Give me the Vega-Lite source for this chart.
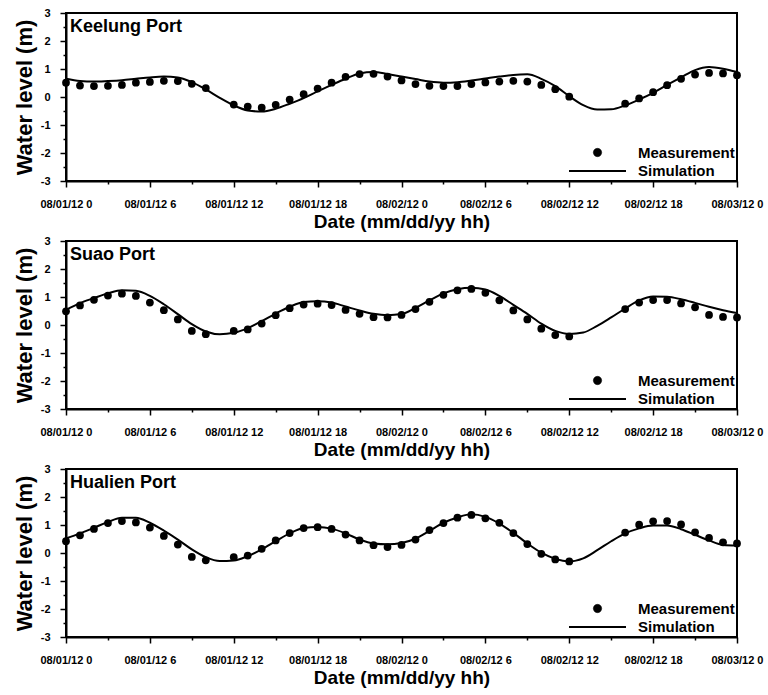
{
  "$schema": "https://vega.github.io/schema/vega-lite/v6.json",
  "padding": {"left": 12, "top": 6, "right": 0, "bottom": 0},
  "background": "white",
  "spacing": 2,
  "datasets": {
    "meas": [
      {"port":"Keelung Port","series":"Measurement","hour":0,"level":0.51},{"port":"Keelung Port","series":"Measurement","hour":1,"level":0.41},{"port":"Keelung Port","series":"Measurement","hour":2,"level":0.39},{"port":"Keelung Port","series":"Measurement","hour":3,"level":0.40},{"port":"Keelung Port","series":"Measurement","hour":4,"level":0.43},{"port":"Keelung Port","series":"Measurement","hour":5,"level":0.51},{"port":"Keelung Port","series":"Measurement","hour":6,"level":0.54},{"port":"Keelung Port","series":"Measurement","hour":7,"level":0.58},{"port":"Keelung Port","series":"Measurement","hour":8,"level":0.57},{"port":"Keelung Port","series":"Measurement","hour":9,"level":0.47},{"port":"Keelung Port","series":"Measurement","hour":10,"level":0.32},{"port":"Keelung Port","series":"Measurement","hour":12,"level":-0.27},{"port":"Keelung Port","series":"Measurement","hour":13,"level":-0.34},{"port":"Keelung Port","series":"Measurement","hour":14,"level":-0.38},{"port":"Keelung Port","series":"Measurement","hour":15,"level":-0.28},{"port":"Keelung Port","series":"Measurement","hour":16,"level":-0.09},{"port":"Keelung Port","series":"Measurement","hour":17,"level":0.10},{"port":"Keelung Port","series":"Measurement","hour":18,"level":0.30},{"port":"Keelung Port","series":"Measurement","hour":19,"level":0.51},{"port":"Keelung Port","series":"Measurement","hour":20,"level":0.72},{"port":"Keelung Port","series":"Measurement","hour":21,"level":0.82},{"port":"Keelung Port","series":"Measurement","hour":22,"level":0.83},{"port":"Keelung Port","series":"Measurement","hour":23,"level":0.73},{"port":"Keelung Port","series":"Measurement","hour":24,"level":0.59},{"port":"Keelung Port","series":"Measurement","hour":25,"level":0.46},{"port":"Keelung Port","series":"Measurement","hour":26,"level":0.40},{"port":"Keelung Port","series":"Measurement","hour":27,"level":0.39},{"port":"Keelung Port","series":"Measurement","hour":28,"level":0.39},{"port":"Keelung Port","series":"Measurement","hour":29,"level":0.46},{"port":"Keelung Port","series":"Measurement","hour":30,"level":0.52},{"port":"Keelung Port","series":"Measurement","hour":31,"level":0.55},{"port":"Keelung Port","series":"Measurement","hour":32,"level":0.58},{"port":"Keelung Port","series":"Measurement","hour":33,"level":0.55},{"port":"Keelung Port","series":"Measurement","hour":34,"level":0.43},{"port":"Keelung Port","series":"Measurement","hour":35,"level":0.28},{"port":"Keelung Port","series":"Measurement","hour":36,"level":0.01},{"port":"Keelung Port","series":"Measurement","hour":40,"level":-0.24},{"port":"Keelung Port","series":"Measurement","hour":41,"level":-0.05},{"port":"Keelung Port","series":"Measurement","hour":42,"level":0.17},{"port":"Keelung Port","series":"Measurement","hour":43,"level":0.42},{"port":"Keelung Port","series":"Measurement","hour":44,"level":0.65},{"port":"Keelung Port","series":"Measurement","hour":45,"level":0.80},{"port":"Keelung Port","series":"Measurement","hour":46,"level":0.86},{"port":"Keelung Port","series":"Measurement","hour":47,"level":0.84},{"port":"Keelung Port","series":"Measurement","hour":48,"level":0.78},
      {"port":"Suao Port","series":"Measurement","hour":0,"level":0.49},{"port":"Suao Port","series":"Measurement","hour":1,"level":0.70},{"port":"Suao Port","series":"Measurement","hour":2,"level":0.90},{"port":"Suao Port","series":"Measurement","hour":3,"level":1.05},{"port":"Suao Port","series":"Measurement","hour":4,"level":1.12},{"port":"Suao Port","series":"Measurement","hour":5,"level":1.04},{"port":"Suao Port","series":"Measurement","hour":6,"level":0.80},{"port":"Suao Port","series":"Measurement","hour":7,"level":0.53},{"port":"Suao Port","series":"Measurement","hour":8,"level":0.20},{"port":"Suao Port","series":"Measurement","hour":9,"level":-0.21},{"port":"Suao Port","series":"Measurement","hour":10,"level":-0.33},{"port":"Suao Port","series":"Measurement","hour":12,"level":-0.21},{"port":"Suao Port","series":"Measurement","hour":13,"level":-0.16},{"port":"Suao Port","series":"Measurement","hour":14,"level":0.05},{"port":"Suao Port","series":"Measurement","hour":15,"level":0.35},{"port":"Suao Port","series":"Measurement","hour":16,"level":0.60},{"port":"Suao Port","series":"Measurement","hour":17,"level":0.73},{"port":"Suao Port","series":"Measurement","hour":18,"level":0.76},{"port":"Suao Port","series":"Measurement","hour":19,"level":0.71},{"port":"Suao Port","series":"Measurement","hour":20,"level":0.54},{"port":"Suao Port","series":"Measurement","hour":21,"level":0.40},{"port":"Suao Port","series":"Measurement","hour":22,"level":0.28},{"port":"Suao Port","series":"Measurement","hour":23,"level":0.27},{"port":"Suao Port","series":"Measurement","hour":24,"level":0.36},{"port":"Suao Port","series":"Measurement","hour":25,"level":0.57},{"port":"Suao Port","series":"Measurement","hour":26,"level":0.83},{"port":"Suao Port","series":"Measurement","hour":27,"level":1.08},{"port":"Suao Port","series":"Measurement","hour":28,"level":1.24},{"port":"Suao Port","series":"Measurement","hour":29,"level":1.29},{"port":"Suao Port","series":"Measurement","hour":30,"level":1.15},{"port":"Suao Port","series":"Measurement","hour":31,"level":0.88},{"port":"Suao Port","series":"Measurement","hour":32,"level":0.52},{"port":"Suao Port","series":"Measurement","hour":33,"level":0.20},{"port":"Suao Port","series":"Measurement","hour":34,"level":-0.13},{"port":"Suao Port","series":"Measurement","hour":35,"level":-0.36},{"port":"Suao Port","series":"Measurement","hour":36,"level":-0.41},{"port":"Suao Port","series":"Measurement","hour":40,"level":0.57},{"port":"Suao Port","series":"Measurement","hour":41,"level":0.80},{"port":"Suao Port","series":"Measurement","hour":42,"level":0.89},{"port":"Suao Port","series":"Measurement","hour":43,"level":0.89},{"port":"Suao Port","series":"Measurement","hour":44,"level":0.77},{"port":"Suao Port","series":"Measurement","hour":45,"level":0.63},{"port":"Suao Port","series":"Measurement","hour":46,"level":0.36},{"port":"Suao Port","series":"Measurement","hour":47,"level":0.29},{"port":"Suao Port","series":"Measurement","hour":48,"level":0.27},
      {"port":"Hualien Port","series":"Measurement","hour":0,"level":0.42},{"port":"Hualien Port","series":"Measurement","hour":1,"level":0.63},{"port":"Hualien Port","series":"Measurement","hour":2,"level":0.86},{"port":"Hualien Port","series":"Measurement","hour":3,"level":1.07},{"port":"Hualien Port","series":"Measurement","hour":4,"level":1.14},{"port":"Hualien Port","series":"Measurement","hour":5,"level":1.09},{"port":"Hualien Port","series":"Measurement","hour":6,"level":0.91},{"port":"Hualien Port","series":"Measurement","hour":7,"level":0.61},{"port":"Hualien Port","series":"Measurement","hour":8,"level":0.30},{"port":"Hualien Port","series":"Measurement","hour":9,"level":-0.14},{"port":"Hualien Port","series":"Measurement","hour":10,"level":-0.26},{"port":"Hualien Port","series":"Measurement","hour":12,"level":-0.15},{"port":"Hualien Port","series":"Measurement","hour":13,"level":-0.09},{"port":"Hualien Port","series":"Measurement","hour":14,"level":0.15},{"port":"Hualien Port","series":"Measurement","hour":15,"level":0.45},{"port":"Hualien Port","series":"Measurement","hour":16,"level":0.71},{"port":"Hualien Port","series":"Measurement","hour":17,"level":0.89},{"port":"Hualien Port","series":"Measurement","hour":18,"level":0.92},{"port":"Hualien Port","series":"Measurement","hour":19,"level":0.86},{"port":"Hualien Port","series":"Measurement","hour":20,"level":0.66},{"port":"Hualien Port","series":"Measurement","hour":21,"level":0.45},{"port":"Hualien Port","series":"Measurement","hour":22,"level":0.28},{"port":"Hualien Port","series":"Measurement","hour":23,"level":0.21},{"port":"Hualien Port","series":"Measurement","hour":24,"level":0.29},{"port":"Hualien Port","series":"Measurement","hour":25,"level":0.48},{"port":"Hualien Port","series":"Measurement","hour":26,"level":0.82},{"port":"Hualien Port","series":"Measurement","hour":27,"level":1.07},{"port":"Hualien Port","series":"Measurement","hour":28,"level":1.26},{"port":"Hualien Port","series":"Measurement","hour":29,"level":1.36},{"port":"Hualien Port","series":"Measurement","hour":30,"level":1.24},{"port":"Hualien Port","series":"Measurement","hour":31,"level":1.08},{"port":"Hualien Port","series":"Measurement","hour":32,"level":0.71},{"port":"Hualien Port","series":"Measurement","hour":33,"level":0.32},{"port":"Hualien Port","series":"Measurement","hour":34,"level":-0.03},{"port":"Hualien Port","series":"Measurement","hour":35,"level":-0.23},{"port":"Hualien Port","series":"Measurement","hour":36,"level":-0.30},{"port":"Hualien Port","series":"Measurement","hour":40,"level":0.73},{"port":"Hualien Port","series":"Measurement","hour":41,"level":1.01},{"port":"Hualien Port","series":"Measurement","hour":42,"level":1.13},{"port":"Hualien Port","series":"Measurement","hour":43,"level":1.14},{"port":"Hualien Port","series":"Measurement","hour":44,"level":1.02},{"port":"Hualien Port","series":"Measurement","hour":45,"level":0.74},{"port":"Hualien Port","series":"Measurement","hour":46,"level":0.54},{"port":"Hualien Port","series":"Measurement","hour":47,"level":0.38},{"port":"Hualien Port","series":"Measurement","hour":48,"level":0.34}
    ],
    "sim": [
      {"port":"Keelung Port","series":"Simulation","hour":0,"level":0.65},{"port":"Keelung Port","series":"Simulation","hour":1,"level":0.57},{"port":"Keelung Port","series":"Simulation","hour":2,"level":0.55},{"port":"Keelung Port","series":"Simulation","hour":3,"level":0.57},{"port":"Keelung Port","series":"Simulation","hour":4,"level":0.60},{"port":"Keelung Port","series":"Simulation","hour":5,"level":0.65},{"port":"Keelung Port","series":"Simulation","hour":6,"level":0.70},{"port":"Keelung Port","series":"Simulation","hour":7,"level":0.73},{"port":"Keelung Port","series":"Simulation","hour":8,"level":0.70},{"port":"Keelung Port","series":"Simulation","hour":9,"level":0.53},{"port":"Keelung Port","series":"Simulation","hour":10,"level":0.27},{"port":"Keelung Port","series":"Simulation","hour":11,"level":-0.03},{"port":"Keelung Port","series":"Simulation","hour":12,"level":-0.30},{"port":"Keelung Port","series":"Simulation","hour":13,"level":-0.48},{"port":"Keelung Port","series":"Simulation","hour":14,"level":-0.52},{"port":"Keelung Port","series":"Simulation","hour":15,"level":-0.42},{"port":"Keelung Port","series":"Simulation","hour":16,"level":-0.24},{"port":"Keelung Port","series":"Simulation","hour":17,"level":-0.04},{"port":"Keelung Port","series":"Simulation","hour":18,"level":0.20},{"port":"Keelung Port","series":"Simulation","hour":19,"level":0.43},{"port":"Keelung Port","series":"Simulation","hour":20,"level":0.65},{"port":"Keelung Port","series":"Simulation","hour":21,"level":0.84},{"port":"Keelung Port","series":"Simulation","hour":22,"level":0.89},{"port":"Keelung Port","series":"Simulation","hour":23,"level":0.82},{"port":"Keelung Port","series":"Simulation","hour":24,"level":0.73},{"port":"Keelung Port","series":"Simulation","hour":25,"level":0.64},{"port":"Keelung Port","series":"Simulation","hour":26,"level":0.55},{"port":"Keelung Port","series":"Simulation","hour":27,"level":0.51},{"port":"Keelung Port","series":"Simulation","hour":28,"level":0.53},{"port":"Keelung Port","series":"Simulation","hour":29,"level":0.59},{"port":"Keelung Port","series":"Simulation","hour":30,"level":0.66},{"port":"Keelung Port","series":"Simulation","hour":31,"level":0.73},{"port":"Keelung Port","series":"Simulation","hour":32,"level":0.79},{"port":"Keelung Port","series":"Simulation","hour":33,"level":0.81},{"port":"Keelung Port","series":"Simulation","hour":34,"level":0.65},{"port":"Keelung Port","series":"Simulation","hour":35,"level":0.39},{"port":"Keelung Port","series":"Simulation","hour":36,"level":0.03},{"port":"Keelung Port","series":"Simulation","hour":37,"level":-0.29},{"port":"Keelung Port","series":"Simulation","hour":38,"level":-0.45},{"port":"Keelung Port","series":"Simulation","hour":39,"level":-0.44},{"port":"Keelung Port","series":"Simulation","hour":40,"level":-0.30},{"port":"Keelung Port","series":"Simulation","hour":41,"level":-0.09},{"port":"Keelung Port","series":"Simulation","hour":42,"level":0.15},{"port":"Keelung Port","series":"Simulation","hour":43,"level":0.43},{"port":"Keelung Port","series":"Simulation","hour":44,"level":0.70},{"port":"Keelung Port","series":"Simulation","hour":45,"level":0.96},{"port":"Keelung Port","series":"Simulation","hour":46,"level":1.07},{"port":"Keelung Port","series":"Simulation","hour":47,"level":1.01},{"port":"Keelung Port","series":"Simulation","hour":48,"level":0.89},
      {"port":"Suao Port","series":"Simulation","hour":0,"level":0.54},{"port":"Suao Port","series":"Simulation","hour":1,"level":0.78},{"port":"Suao Port","series":"Simulation","hour":2,"level":0.96},{"port":"Suao Port","series":"Simulation","hour":3,"level":1.13},{"port":"Suao Port","series":"Simulation","hour":4,"level":1.24},{"port":"Suao Port","series":"Simulation","hour":5,"level":1.22},{"port":"Suao Port","series":"Simulation","hour":6,"level":1.04},{"port":"Suao Port","series":"Simulation","hour":7,"level":0.74},{"port":"Suao Port","series":"Simulation","hour":8,"level":0.39},{"port":"Suao Port","series":"Simulation","hour":9,"level":0.03},{"port":"Suao Port","series":"Simulation","hour":10,"level":-0.23},{"port":"Suao Port","series":"Simulation","hour":11,"level":-0.33},{"port":"Suao Port","series":"Simulation","hour":12,"level":-0.28},{"port":"Suao Port","series":"Simulation","hour":13,"level":-0.11},{"port":"Suao Port","series":"Simulation","hour":14,"level":0.14},{"port":"Suao Port","series":"Simulation","hour":15,"level":0.41},{"port":"Suao Port","series":"Simulation","hour":16,"level":0.65},{"port":"Suao Port","series":"Simulation","hour":17,"level":0.82},{"port":"Suao Port","series":"Simulation","hour":18,"level":0.85},{"port":"Suao Port","series":"Simulation","hour":19,"level":0.80},{"port":"Suao Port","series":"Simulation","hour":20,"level":0.66},{"port":"Suao Port","series":"Simulation","hour":21,"level":0.52},{"port":"Suao Port","series":"Simulation","hour":22,"level":0.40},{"port":"Suao Port","series":"Simulation","hour":23,"level":0.35},{"port":"Suao Port","series":"Simulation","hour":24,"level":0.39},{"port":"Suao Port","series":"Simulation","hour":25,"level":0.61},{"port":"Suao Port","series":"Simulation","hour":26,"level":0.88},{"port":"Suao Port","series":"Simulation","hour":27,"level":1.13},{"port":"Suao Port","series":"Simulation","hour":28,"level":1.28},{"port":"Suao Port","series":"Simulation","hour":29,"level":1.33},{"port":"Suao Port","series":"Simulation","hour":30,"level":1.27},{"port":"Suao Port","series":"Simulation","hour":31,"level":1.04},{"port":"Suao Port","series":"Simulation","hour":32,"level":0.72},{"port":"Suao Port","series":"Simulation","hour":33,"level":0.40},{"port":"Suao Port","series":"Simulation","hour":34,"level":0.05},{"port":"Suao Port","series":"Simulation","hour":35,"level":-0.21},{"port":"Suao Port","series":"Simulation","hour":36,"level":-0.32},{"port":"Suao Port","series":"Simulation","hour":37,"level":-0.27},{"port":"Suao Port","series":"Simulation","hour":38,"level":-0.03},{"port":"Suao Port","series":"Simulation","hour":39,"level":0.27},{"port":"Suao Port","series":"Simulation","hour":40,"level":0.59},{"port":"Suao Port","series":"Simulation","hour":41,"level":0.88},{"port":"Suao Port","series":"Simulation","hour":42,"level":1.02},{"port":"Suao Port","series":"Simulation","hour":43,"level":1.01},{"port":"Suao Port","series":"Simulation","hour":44,"level":0.92},{"port":"Suao Port","series":"Simulation","hour":45,"level":0.79},{"port":"Suao Port","series":"Simulation","hour":46,"level":0.65},{"port":"Suao Port","series":"Simulation","hour":47,"level":0.53},{"port":"Suao Port","series":"Simulation","hour":48,"level":0.43},
      {"port":"Hualien Port","series":"Simulation","hour":0,"level":0.52},{"port":"Hualien Port","series":"Simulation","hour":1,"level":0.70},{"port":"Hualien Port","series":"Simulation","hour":2,"level":0.90},{"port":"Hualien Port","series":"Simulation","hour":3,"level":1.11},{"port":"Hualien Port","series":"Simulation","hour":4,"level":1.26},{"port":"Hualien Port","series":"Simulation","hour":5,"level":1.26},{"port":"Hualien Port","series":"Simulation","hour":6,"level":1.08},{"port":"Hualien Port","series":"Simulation","hour":7,"level":0.80},{"port":"Hualien Port","series":"Simulation","hour":8,"level":0.48},{"port":"Hualien Port","series":"Simulation","hour":9,"level":0.13},{"port":"Hualien Port","series":"Simulation","hour":10,"level":-0.15},{"port":"Hualien Port","series":"Simulation","hour":11,"level":-0.29},{"port":"Hualien Port","series":"Simulation","hour":12,"level":-0.27},{"port":"Hualien Port","series":"Simulation","hour":13,"level":-0.11},{"port":"Hualien Port","series":"Simulation","hour":14,"level":0.13},{"port":"Hualien Port","series":"Simulation","hour":15,"level":0.42},{"port":"Hualien Port","series":"Simulation","hour":16,"level":0.70},{"port":"Hualien Port","series":"Simulation","hour":17,"level":0.89},{"port":"Hualien Port","series":"Simulation","hour":18,"level":0.93},{"port":"Hualien Port","series":"Simulation","hour":19,"level":0.87},{"port":"Hualien Port","series":"Simulation","hour":20,"level":0.70},{"port":"Hualien Port","series":"Simulation","hour":21,"level":0.48},{"port":"Hualien Port","series":"Simulation","hour":22,"level":0.34},{"port":"Hualien Port","series":"Simulation","hour":23,"level":0.31},{"port":"Hualien Port","series":"Simulation","hour":24,"level":0.36},{"port":"Hualien Port","series":"Simulation","hour":25,"level":0.51},{"port":"Hualien Port","series":"Simulation","hour":26,"level":0.79},{"port":"Hualien Port","series":"Simulation","hour":27,"level":1.08},{"port":"Hualien Port","series":"Simulation","hour":28,"level":1.27},{"port":"Hualien Port","series":"Simulation","hour":29,"level":1.38},{"port":"Hualien Port","series":"Simulation","hour":30,"level":1.29},{"port":"Hualien Port","series":"Simulation","hour":31,"level":1.05},{"port":"Hualien Port","series":"Simulation","hour":32,"level":0.72},{"port":"Hualien Port","series":"Simulation","hour":33,"level":0.34},{"port":"Hualien Port","series":"Simulation","hour":34,"level":0.01},{"port":"Hualien Port","series":"Simulation","hour":35,"level":-0.21},{"port":"Hualien Port","series":"Simulation","hour":36,"level":-0.30},{"port":"Hualien Port","series":"Simulation","hour":37,"level":-0.19},{"port":"Hualien Port","series":"Simulation","hour":38,"level":0.10},{"port":"Hualien Port","series":"Simulation","hour":39,"level":0.42},{"port":"Hualien Port","series":"Simulation","hour":40,"level":0.70},{"port":"Hualien Port","series":"Simulation","hour":41,"level":0.88},{"port":"Hualien Port","series":"Simulation","hour":42,"level":0.98},{"port":"Hualien Port","series":"Simulation","hour":43,"level":0.98},{"port":"Hualien Port","series":"Simulation","hour":44,"level":0.85},{"port":"Hualien Port","series":"Simulation","hour":45,"level":0.65},{"port":"Hualien Port","series":"Simulation","hour":46,"level":0.45},{"port":"Hualien Port","series":"Simulation","hour":47,"level":0.29},{"port":"Hualien Port","series":"Simulation","hour":48,"level":0.27}
    ]
  },
  "vconcat": [
    {
      "width": 671, "height": 168,
      "layer": [
        {"data": {"name": "sim"}, "transform": [{"filter": "datum.port === 'Keelung Port'"}],
         "mark": {"type": "line", "interpolate": "monotone", "strokeWidth": 2},
         "encoding": {
           "x": {"field": "hour", "type": "quantitative", "scale": {"domain": [0, 48], "nice": false},
                 "axis": {"values": [0,3,6,9,12,15,18,21,24,27,30,33,36,39,42,45,48], "tickCount": 40,
                          "labelExpr": "datum.value % 6 !== 0 ? '' : '08/0' + (1 + floor(datum.value / 24)) + '/12 ' + (datum.value % 24)",
                          "tickSize": {"condition": {"test": "datum.value % 6 === 0", "value": 6}, "value": 3},
                          "labelOverlap": false,
                          "title": "Date (mm/dd/yy hh)"}},
           "y": {"field": "level", "type": "quantitative", "scale": {"domain": [-3, 3], "nice": false},
                 "axis": {"values": [-3,-2.5,-2,-1.5,-1,-0.5,0,0.5,1,1.5,2,2.5,3], "tickCount": 30,
                          "labelExpr": "datum.value % 1 === 0 ? '' + datum.value : ''",
                          "tickSize": {"condition": {"test": "datum.value % 1 === 0", "value": 6}, "value": 3},
                          "labelOverlap": false,
                          "title": "Water level (m)"}},
           "color": {"field": "series", "type": "nominal", "scale": {"domain": ["Measurement", "Simulation"], "range": ["black", "black"]},
                     "legend": {"encode": {"symbols": {"update": {
                       "shape": {"signal": "datum.value === 'Measurement' ? 'circle' : 'stroke'"},
                       "size": {"signal": "datum.value === 'Measurement' ? 70 : 3249"},
                       "fill": {"signal": "datum.value === 'Measurement' ? 'black' : 'transparent'"},
                       "stroke": {"value": "black"},
                       "strokeWidth": {"signal": "datum.value === 'Measurement' ? 0.5 : 2"},
                       "opacity": {"value": 1}}}}}}
         }},
        {"data": {"name": "meas"}, "transform": [{"filter": "datum.port === 'Keelung Port'"}],
         "mark": {"type": "point", "filled": true, "size": 60, "opacity": 1},
         "encoding": {
           "x": {"field": "hour", "type": "quantitative"},
           "y": {"field": "level", "type": "quantitative"},
           "color": {"field": "series", "type": "nominal"}
         }},
        {"data": {"values": [{"name": "Keelung Port"}]},
         "mark": {"type": "text", "align": "left", "baseline": "middle", "dx": 4, "dy": 14, "fontSize": 18, "fontWeight": "bold", "font": "Liberation Sans", "color": "black"},
         "encoding": {"x": {"datum": 0}, "y": {"datum": 3}, "text": {"field": "name"}}}
      ]
    },
    {
      "width": 671, "height": 168,
      "layer": [
        {"data": {"name": "sim"}, "transform": [{"filter": "datum.port === 'Suao Port'"}],
         "mark": {"type": "line", "interpolate": "monotone", "strokeWidth": 2},
         "encoding": {
           "x": {"field": "hour", "type": "quantitative", "scale": {"domain": [0, 48], "nice": false},
                 "axis": {"values": [0,3,6,9,12,15,18,21,24,27,30,33,36,39,42,45,48], "tickCount": 40,
                          "labelExpr": "datum.value % 6 !== 0 ? '' : '08/0' + (1 + floor(datum.value / 24)) + '/12 ' + (datum.value % 24)",
                          "tickSize": {"condition": {"test": "datum.value % 6 === 0", "value": 6}, "value": 3},
                          "labelOverlap": false,
                          "title": "Date (mm/dd/yy hh)"}},
           "y": {"field": "level", "type": "quantitative", "scale": {"domain": [-3, 3], "nice": false},
                 "axis": {"values": [-3,-2.5,-2,-1.5,-1,-0.5,0,0.5,1,1.5,2,2.5,3], "tickCount": 30,
                          "labelExpr": "datum.value % 1 === 0 ? '' + datum.value : ''",
                          "tickSize": {"condition": {"test": "datum.value % 1 === 0", "value": 6}, "value": 3},
                          "labelOverlap": false,
                          "title": "Water level (m)"}},
           "color": {"field": "series", "type": "nominal", "scale": {"domain": ["Measurement", "Simulation"], "range": ["black", "black"]},
                     "legend": {"encode": {"symbols": {"update": {
                       "shape": {"signal": "datum.value === 'Measurement' ? 'circle' : 'stroke'"},
                       "size": {"signal": "datum.value === 'Measurement' ? 70 : 3249"},
                       "fill": {"signal": "datum.value === 'Measurement' ? 'black' : 'transparent'"},
                       "stroke": {"value": "black"},
                       "strokeWidth": {"signal": "datum.value === 'Measurement' ? 0.5 : 2"},
                       "opacity": {"value": 1}}}}}}
         }},
        {"data": {"name": "meas"}, "transform": [{"filter": "datum.port === 'Suao Port'"}],
         "mark": {"type": "point", "filled": true, "size": 60, "opacity": 1},
         "encoding": {
           "x": {"field": "hour", "type": "quantitative"},
           "y": {"field": "level", "type": "quantitative"},
           "color": {"field": "series", "type": "nominal"}
         }},
        {"data": {"values": [{"name": "Suao Port"}]},
         "mark": {"type": "text", "align": "left", "baseline": "middle", "dx": 4, "dy": 14, "fontSize": 18, "fontWeight": "bold", "font": "Liberation Sans", "color": "black"},
         "encoding": {"x": {"datum": 0}, "y": {"datum": 3}, "text": {"field": "name"}}}
      ]
    },
    {
      "width": 671, "height": 168,
      "layer": [
        {"data": {"name": "sim"}, "transform": [{"filter": "datum.port === 'Hualien Port'"}],
         "mark": {"type": "line", "interpolate": "monotone", "strokeWidth": 2},
         "encoding": {
           "x": {"field": "hour", "type": "quantitative", "scale": {"domain": [0, 48], "nice": false},
                 "axis": {"values": [0,3,6,9,12,15,18,21,24,27,30,33,36,39,42,45,48], "tickCount": 40,
                          "labelExpr": "datum.value % 6 !== 0 ? '' : '08/0' + (1 + floor(datum.value / 24)) + '/12 ' + (datum.value % 24)",
                          "tickSize": {"condition": {"test": "datum.value % 6 === 0", "value": 6}, "value": 3},
                          "labelOverlap": false,
                          "title": "Date (mm/dd/yy hh)"}},
           "y": {"field": "level", "type": "quantitative", "scale": {"domain": [-3, 3], "nice": false},
                 "axis": {"values": [-3,-2.5,-2,-1.5,-1,-0.5,0,0.5,1,1.5,2,2.5,3], "tickCount": 30,
                          "labelExpr": "datum.value % 1 === 0 ? '' + datum.value : ''",
                          "tickSize": {"condition": {"test": "datum.value % 1 === 0", "value": 6}, "value": 3},
                          "labelOverlap": false,
                          "title": "Water level (m)"}},
           "color": {"field": "series", "type": "nominal", "scale": {"domain": ["Measurement", "Simulation"], "range": ["black", "black"]},
                     "legend": {"encode": {"symbols": {"update": {
                       "shape": {"signal": "datum.value === 'Measurement' ? 'circle' : 'stroke'"},
                       "size": {"signal": "datum.value === 'Measurement' ? 70 : 3249"},
                       "fill": {"signal": "datum.value === 'Measurement' ? 'black' : 'transparent'"},
                       "stroke": {"value": "black"},
                       "strokeWidth": {"signal": "datum.value === 'Measurement' ? 0.5 : 2"},
                       "opacity": {"value": 1}}}}}}
         }},
        {"data": {"name": "meas"}, "transform": [{"filter": "datum.port === 'Hualien Port'"}],
         "mark": {"type": "point", "filled": true, "size": 60, "opacity": 1},
         "encoding": {
           "x": {"field": "hour", "type": "quantitative"},
           "y": {"field": "level", "type": "quantitative"},
           "color": {"field": "series", "type": "nominal"}
         }},
        {"data": {"values": [{"name": "Hualien Port"}]},
         "mark": {"type": "text", "align": "left", "baseline": "middle", "dx": 4, "dy": 14, "fontSize": 18, "fontWeight": "bold", "font": "Liberation Sans", "color": "black"},
         "encoding": {"x": {"datum": 0}, "y": {"datum": 3}, "text": {"field": "name"}}}
      ]
    }
  ],
  "resolve": {"scale": {"color": "independent"}, "legend": {"color": "independent"}},
  "config": {
    "view": {"stroke": "black", "strokeWidth": 2},
    "axis": {"grid": false, "domainColor": "black", "domainWidth": 2, "tickColor": "black", "tickWidth": 1.5,
             "labelFont": "Liberation Sans", "labelFontWeight": "bold", "labelColor": "black",
             "titleFont": "Liberation Sans", "titleFontWeight": "bold", "titleColor": "black"},
    "axisX": {"labelFontSize": 11, "labelPadding": 11, "titleFontSize": 19, "titlePadding": 3, "labelFlush": false},
    "axisY": {"labelFontSize": 11, "labelPadding": 10, "titleFontSize": 22, "titlePadding": 4},
    "legend": {"orient": "bottom-right", "offset": 2, "padding": 0, "title": null,
               "labelFont": "Liberation Sans", "labelFontSize": 15, "labelFontWeight": "bold", "labelColor": "black",
               "symbolStrokeWidth": 2, "rowPadding": 2.5, "labelOffset": 33, "symbolOffset": 0},
    "text": {"font": "Liberation Sans"}
  }
}
